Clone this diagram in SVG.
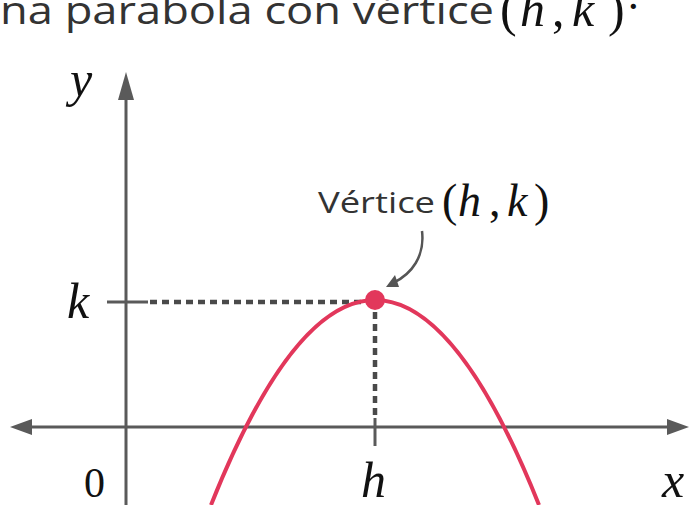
<svg xmlns="http://www.w3.org/2000/svg" width="689" height="505" viewBox="0 0 689 505">
<style>
.sans{font-family:"Open Sans","Liberation Sans",sans-serif;fill:#333}
.math{font-family:"Liberation Serif","DejaVu Serif",serif;font-style:italic;fill:#111}
.rm{font-family:"Liberation Serif","DejaVu Serif",serif;fill:#111}
.axis{stroke:#5a5a5a;stroke-width:3;fill:none}
.dot{stroke:#4a4a4a;stroke-width:4.5;stroke-dasharray:7 5;fill:none}
</style>
<rect width="689" height="505" fill="#fff"/>
<g id="title">
<text class="sans" x="0" y="24" font-size="38" textLength="494" lengthAdjust="spacingAndGlyphs">na parabola con vértice</text>
<text class="rm" x="500" y="26" font-size="50">(</text>
<text class="math" x="520" y="26" font-size="50">h</text>
<text class="rm" x="552" y="26" font-size="50">,</text>
<text class="math" x="572" y="26" font-size="50">k</text>
<text class="rm" x="608" y="26" font-size="50">)</text>
<text class="rm" x="626" y="21" font-size="44">·</text>
</g>
<g id="axes">
<line class="axis" x1="126" y1="98" x2="126" y2="505"/>
<polygon points="126,72 118,100 134,100" fill="#5a5a5a"/>
<line class="axis" x1="30" y1="427" x2="670" y2="427"/>
<polygon points="10,427 32,419 32,435" fill="#5a5a5a"/>
<polygon points="689,427 667,419 667,435" fill="#5a5a5a"/>
<line class="axis" x1="107" y1="302" x2="148" y2="302"/>
<line class="axis" x1="375" y1="418" x2="375" y2="446"/>
</g>
<g id="guides">
<line class="dot" x1="150" y1="302" x2="368" y2="302"/>
<line class="dot" x1="375" y1="312" x2="375" y2="420"/>
</g>
<g id="parabola">
<path d="M211,505 Q375,95 539,505" fill="none" stroke="#e2375b" stroke-width="4"/>
</g>
<g id="vertex">
<circle cx="375" cy="300" r="10" fill="#e2375b"/>
</g>
<g id="connectors">
<path d="M422,231 C425,256 412,274 393,283" fill="none" stroke="#555" stroke-width="2.5"/>
<polygon points="386,287 395,275 399,287" fill="#555"/>
</g>
<g id="labels">
<text class="sans" x="318" y="213" font-size="30" textLength="117" lengthAdjust="spacingAndGlyphs">Vértice</text>
<text class="rm" x="442" y="216" font-size="46">(</text>
<text class="math" x="458" y="216" font-size="46">h</text>
<text class="rm" x="489" y="216" font-size="46">,</text>
<text class="math" x="507" y="216" font-size="46">k</text>
<text class="rm" x="534" y="216" font-size="46">)</text>
<text class="math" x="70" y="96" font-size="50">y</text>
<text class="math" x="67" y="318" font-size="50">k</text>
<text class="rm" x="84" y="497" font-size="42">0</text>
<text class="math" x="361" y="497" font-size="50">h</text>
<text class="math" x="662" y="497" font-size="50">x</text>
</g>
</svg>
